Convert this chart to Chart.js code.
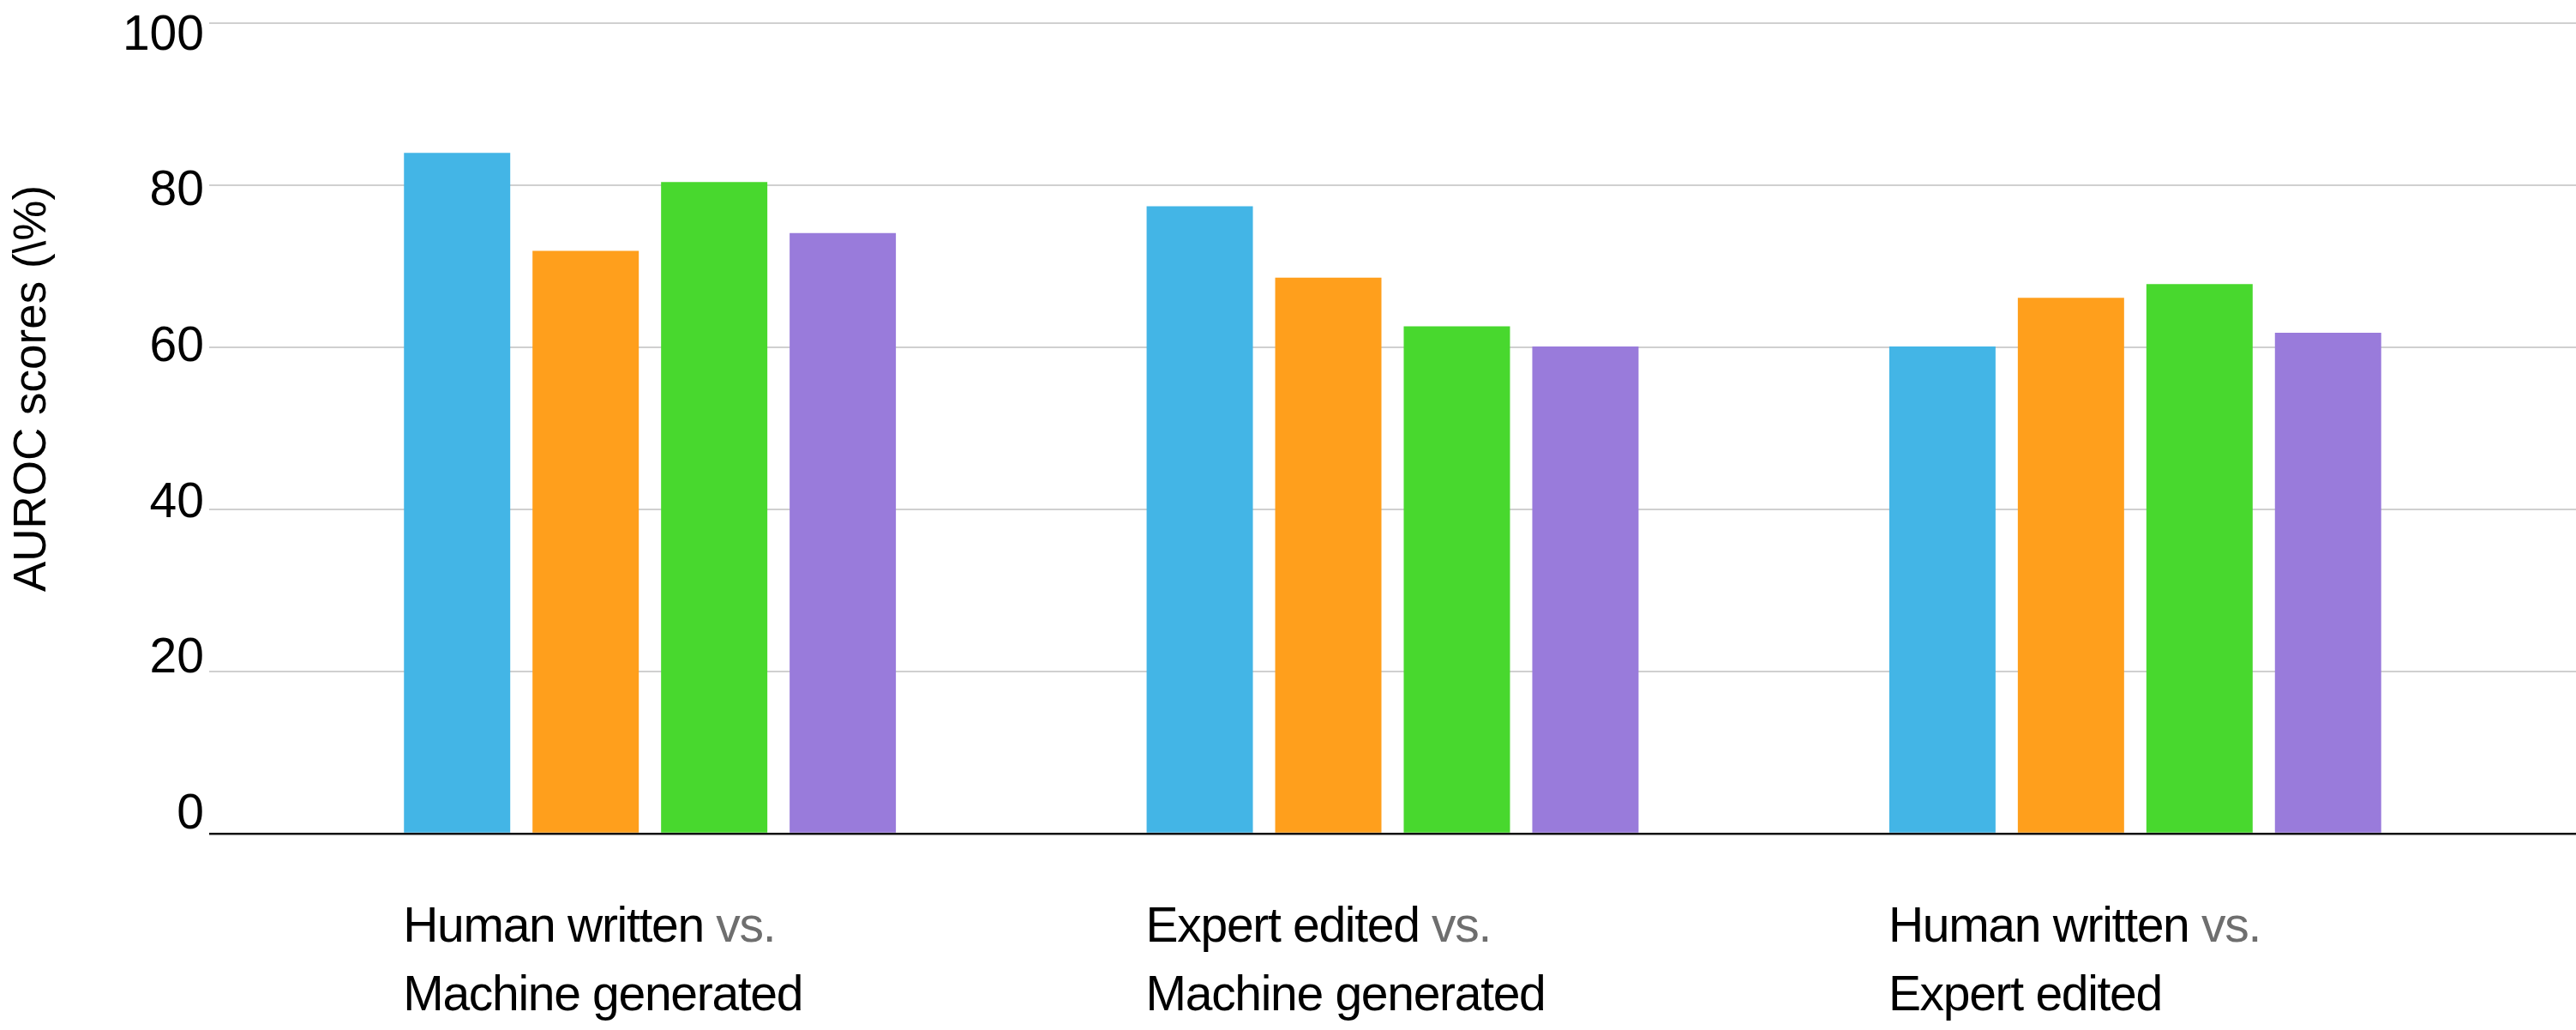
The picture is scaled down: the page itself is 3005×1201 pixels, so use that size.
<!DOCTYPE html>
<html>
<head>
<meta charset="utf-8">
<script src="https://cdn.jsdelivr.net/npm/chart.js@4"></script>
<style>
  html, body { margin: 0; padding: 0; background: #ffffff; }
  #wrap { width: 3005px; height: 1201px; position: relative; }
</style>
</head>
<body>
<div id="wrap"><canvas id="c" width="3005" height="1201"></canvas></div>
<script>
// ---- data ----
const categoryLine1 = ["Human written", "Expert edited", "Human written"];
const categoryLine2 = ["Machine generated", "Machine generated", "Expert edited"];
const connectorWord = "vs.";
const seriesNames = ["Series 1", "Series 2", "Series 3", "Series 4"];
const series1 = [84.0, 77.4, 60.1];
const series2 = [71.9, 68.6, 66.1];
const series3 = [80.4, 62.6, 67.8];
const series4 = [74.1, 60.1, 61.8];
const yTicks = [0, 20, 40, 60, 80, 100];
const yTitle = "AUROC scores (\\%)";

const colors = ["#43B5E6", "#FF9F1C", "#48D82E", "#997BDB"];
const FONT = "'Liberation Sans', Arial, Helvetica, sans-serif";

const gridColor = ctx => (ctx.tick && ctx.tick.value === 0) ? "#111111" : "#d0d0d0";
const gridWidth = ctx => (ctx.tick && ctx.tick.value === 0) ? 2.5 : 2;
const setTicks = scale => { scale.ticks = yTicks.map(v => ({ value: v })); };

const labelsPlugin = {
  id: "catLabels",
  afterDraw(chart) {
    const ctx = chart.ctx;
    const meta = chart.getDatasetMeta(0);
    const bottom = chart.chartArea.bottom;
    ctx.save();
    ctx.font = "57px " + FONT;
    ctx.letterSpacing = "-1.3px";
    ctx.textBaseline = "alphabetic";
    ctx.textAlign = "left";
    meta.data.forEach((bar, i) => {
      const left = bar.x - bar.width / 2 - 1;
      ctx.fillStyle = "#000000";
      const t1 = categoryLine1[i] + " ";
      ctx.fillText(t1, left, bottom + 126);
      const w = ctx.measureText(t1).width;
      ctx.fillStyle = "#6e6e6e";
      ctx.fillText(connectorWord, left + w, bottom + 126);
      ctx.fillStyle = "#000000";
      ctx.fillText(categoryLine2[i], left, bottom + 206);
    });
    ctx.restore();
    // y axis title
    ctx.save();
    ctx.translate(53, 453);
    ctx.rotate(-Math.PI / 2);
    ctx.font = "53px " + FONT;
    ctx.textAlign = "center";
    ctx.textBaseline = "alphabetic";
    ctx.fillStyle = "#000000";
    ctx.fillText(yTitle, 0, 0);
    ctx.restore();
  }
};

new Chart(document.getElementById("c"), {
  type: "bar",
  data: {
    labels: categoryLine1.map((a, i) => a + " vs. " + categoryLine2[i]),
    datasets: [series1, series2, series3, series4].map((d, i) => ({
      label: seriesNames[i],
      data: d,
      backgroundColor: colors[i],
      borderWidth: 0,
      categoryPercentage: 0.6924,
      barPercentage: 0.8267
    }))
  },
  options: {
    responsive: false,
    animation: false,
    devicePixelRatio: 1,
    layout: { padding: { top: 27, bottom: 229, left: 0, right: 0 } },
    plugins: { legend: { display: false }, tooltip: { enabled: false }, title: { display: false } },
    scales: {
      x: {
        type: "category",
        display: false
      },
      // main value axis: grid lines (extended left by tick marks)
      y: {
        position: "left",
        weight: 0,
        min: 0, max: 100,
        afterBuildTicks: setTicks,
        afterFit(scale) { scale.width = 81; },
        border: { display: false },
        grid: { color: gridColor, lineWidth: gridWidth, drawTicks: true, tickLength: 81 },
        ticks: { display: false }
      },
      // label axis: carries the tick texts, spaced like the reference
      yLabels: {
        position: "left",
        weight: 1,
        min: -2.42, max: 101.65,
        afterBuildTicks: setTicks,
        afterFit(scale) { scale.width = 244; scale.paddingTop = 0; scale.paddingBottom = 0; },
        border: { display: false },
        grid: { display: false, drawTicks: false },
        ticks: { padding: 6, color: "#000000", font: { family: FONT, size: 57, lineHeight: 0.9 } }
      },
      // right side: extends grid lines to the right edge
      y2: {
        position: "right",
        min: 0, max: 100,
        afterBuildTicks: setTicks,
        afterFit(scale) { scale.width = 81; },
        border: { display: false },
        grid: { color: gridColor, lineWidth: gridWidth, drawOnChartArea: false, drawTicks: true, tickLength: 81 },
        ticks: { display: false }
      }
    }
  },
  plugins: [labelsPlugin]
});
</script>
</body>
</html>
